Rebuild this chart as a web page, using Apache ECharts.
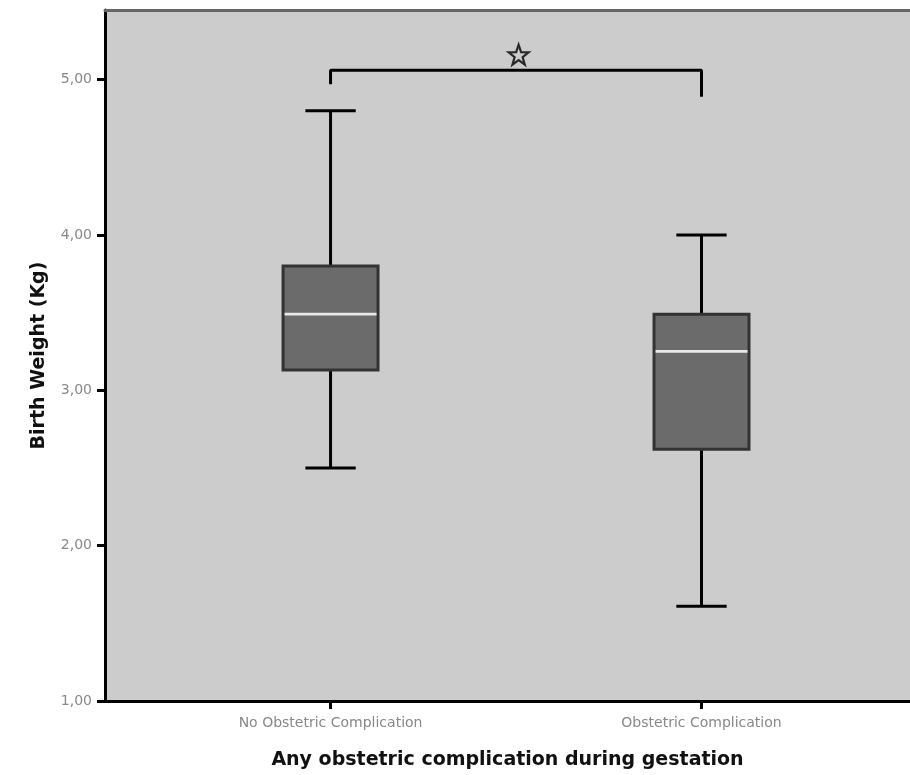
<!DOCTYPE html>
<html>
<head>
<meta charset="utf-8">
<script src="https://cdn.jsdelivr.net/npm/echarts@6/dist/echarts.min.js"></script>
<style>
  html, body { margin: 0; padding: 0; background: #fff; }
  #chart { width: 910px; height: 775px; }
</style>
</head>
<body>
<div id="chart"></div>
<script>
// groups on the x axis (positions 1 and 2)
var categories = ['No Obstetric Complication', 'Obstetric Complication'];
var positions = [1, 2];
// boxplot summary values (Kg)
var minVals = [2.50, 1.61];
var q1Vals = [3.13, 2.62];
var medianVals = [3.49, 3.25];
var q3Vals = [3.80, 3.49];
var maxVals = [4.80, 4.00];
// y ticks
var yTicks = [1, 2, 3, 4, 5];
// significance bracket
var bracketTop = 5.06;
var bracketLegs = [4.97, 4.89];
var starY = 5.16;

var boxData = positions.map(function (p, i) {
    return [p, minVals[i], q1Vals[i], medianVals[i], q3Vals[i], maxVals[i]];
});

var bracketData = [
    [positions[0], bracketLegs[0]],
    [positions[0], bracketTop],
    [positions[1], bracketTop],
    [positions[1], bracketLegs[1]]
];

var starPath = 'path://M0,-10L2.35,-3.24L9.51,-3.09L3.8,1.24L5.88,8.09L0,4L-5.88,8.09L-3.8,1.24L-9.51,-3.09L-2.35,-3.24Z';

var chart = echarts.init(document.getElementById('chart'));
var option = {
    animation: false,
    backgroundColor: '#ffffff',
    grid: {
        left: 105,
        right: 0,
        top: 10,
        bottom: 70,
        show: true,
        backgroundColor: '#cccccc',
        borderWidth: 0
    },
    xAxis: [{
        type: 'value',
        min: 0.392,
        max: 2.562,
        position: 'bottom',
        splitLine: { show: false },
        axisLine: { show: true, onZero: false, lineStyle: { color: '#000', width: 3 } },
        axisTick: { show: true, customValues: positions, length: 8, lineStyle: { color: '#000', width: 3 } },
        axisLabel: {
            customValues: positions,
            margin: 15,
            color: '#888',
            fontSize: 14,
            fontFamily: 'DejaVu Sans',
            formatter: function (v) {
                var i = positions.indexOf(v);
                return i >= 0 ? categories[i] : '';
            }
        },
        name: 'Any obstetric complication during gestation',
        nameLocation: 'middle',
        nameGap: 50,
        nameTextStyle: { color: '#111', fontSize: 19, fontWeight: 'bold', fontFamily: 'DejaVu Sans' }
    }, {
        type: 'value',
        min: 0.392,
        max: 2.562,
        position: 'top',
        splitLine: { show: false },
        axisLine: { show: true, onZero: false, lineStyle: { color: '#666', width: 3 } },
        axisTick: { show: false },
        axisLabel: { show: false }
    }],
    yAxis: {
        type: 'value',
        min: 1,
        max: 5.448,
        splitLine: { show: false },
        axisLine: { show: true, onZero: false, lineStyle: { color: '#000', width: 3 } },
        axisTick: { show: true, customValues: yTicks, length: 8, lineStyle: { color: '#000', width: 3 } },
        axisLabel: {
            customValues: yTicks,
            margin: 13,
            color: '#888',
            fontSize: 14,
            fontFamily: 'DejaVu Sans',
            formatter: function (v) { return v.toFixed(2).replace('.', ','); }
        },
        name: 'Birth Weight (Kg)',
        nameLocation: 'middle',
        nameGap: 56,
        nameTextStyle: { color: '#111', fontSize: 19, fontWeight: 'bold', fontFamily: 'DejaVu Sans' }
    },
    series: [
        {
            type: 'custom',
            data: boxData,
            encode: { x: 0, y: [1, 2, 3, 4, 5] },
            renderItem: function (params, api) {
                var x = api.value(0);
                var pMin = api.coord([x, api.value(1)]);
                var pQ1 = api.coord([x, api.value(2)]);
                var pMed = api.coord([x, api.value(3)]);
                var pQ3 = api.coord([x, api.value(4)]);
                var pMax = api.coord([x, api.value(5)]);
                var boxW = api.size([0.256, 0])[0];
                var capW = boxW * 0.53;
                var cx = pMed[0];
                var lineStyle = { stroke: '#000', lineWidth: 3 };
                return {
                    type: 'group',
                    children: [
                        { type: 'line', shape: { x1: cx, y1: pMax[1], x2: cx, y2: pQ3[1] }, style: lineStyle },
                        { type: 'line', shape: { x1: cx, y1: pQ1[1], x2: cx, y2: pMin[1] }, style: lineStyle },
                        { type: 'line', shape: { x1: cx - capW / 2, y1: pMax[1], x2: cx + capW / 2, y2: pMax[1] }, style: lineStyle },
                        { type: 'line', shape: { x1: cx - capW / 2, y1: pMin[1], x2: cx + capW / 2, y2: pMin[1] }, style: lineStyle },
                        {
                            type: 'rect',
                            shape: { x: cx - boxW / 2, y: pQ3[1], width: boxW, height: pQ1[1] - pQ3[1] },
                            style: { fill: '#6b6b6b', stroke: '#333', lineWidth: 3 }
                        },
                        {
                            type: 'line',
                            shape: { x1: cx - boxW / 2 + 1.5, y1: pMed[1], x2: cx + boxW / 2 - 1.5, y2: pMed[1] },
                            style: { stroke: '#e8e8e8', lineWidth: 2.7 }
                        }
                    ]
                };
            }
        },
        {
            type: 'line',
            data: bracketData,
            symbol: 'none',
            lineStyle: { color: '#000', width: 3 }
        },
        {
            type: 'scatter',
            data: [[(positions[0] + positions[1]) / 2 + 0.007, starY]],
            symbol: starPath,
            symbolSize: 20,
            itemStyle: { color: 'rgba(0,0,0,0)', borderColor: '#000', borderWidth: 2.2 }
        }
    ]
};
chart.setOption(option);
</script>
</body>
</html>
